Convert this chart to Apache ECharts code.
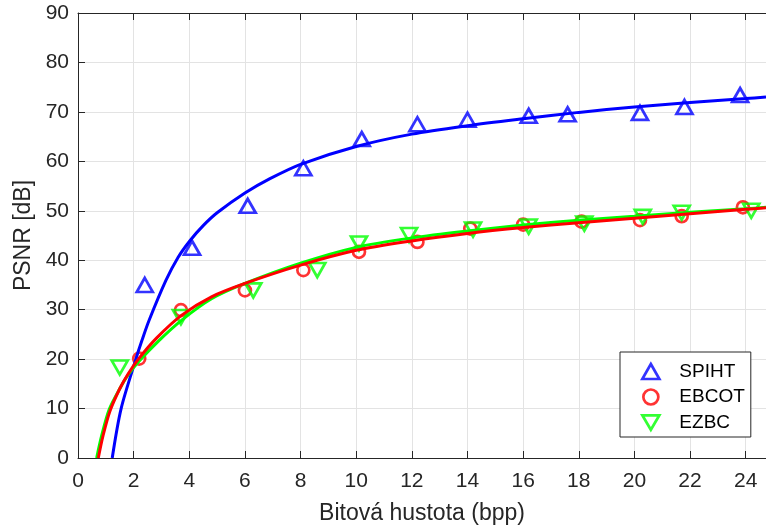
<!DOCTYPE html>
<html>
<head>
<meta charset="utf-8">
<script src="https://cdn.jsdelivr.net/npm/echarts@6/dist/echarts.min.js"></script>
<style>
  html, body { margin: 0; padding: 0; background: #fff; }
  #chart { width: 766px; height: 528px; }
</style>
</head>
<body>
<div id="chart"></div>
<script>
// measured points
const spihtX = [2.4, 4.1, 6.1, 8.1, 10.2, 12.2, 14.0, 16.2, 17.6, 20.2, 21.8, 23.8]
const spihtY = [35.0, 42.5, 51.0, 58.6, 64.5, 67.5, 68.4, 69.2, 69.5, 69.8, 71.0, 73.4]
const ebcotX = [2.2, 3.7, 6.0, 8.1, 10.1, 12.2, 14.1, 16.0, 18.1, 20.2, 21.7, 23.9]
const ebcotY = [20.1, 29.9, 33.9, 38.0, 41.7, 43.7, 46.4, 47.2, 47.8, 48.1, 48.9, 50.7]
const ezbcX = [1.5, 3.7, 6.3, 8.6, 10.1, 11.9, 14.2, 16.2, 18.2, 20.3, 21.7, 24.2]
const ezbcY = [18.3, 28.5, 33.9, 38.0, 43.4, 45.1, 46.2, 46.8, 47.4, 48.8, 49.6, 50.0]

// fitted curves
const spihtFitX = [1.23, 1.55, 2.08, 2.3, 2.56, 3.16, 3.6, 4.03, 4.5, 5.0, 6.0, 6.9, 8.0, 10, 12, 14, 16, 18, 20, 22, 24, 24.73]
const spihtFitY = [0, 10, 20, 23.8, 27.9, 35.9, 40.6, 44.0, 47.0, 49.6, 53.6, 56.5, 59.4, 63.0, 65.5, 67.2, 68.6, 69.9, 71.0, 71.9, 72.7, 73.0]
const ebcotFitX = [0.73, 0.9, 1.15, 1.5, 1.8, 2.17, 2.83, 3.73, 4.8, 6, 8, 10, 12, 14, 16, 18, 20, 22, 24, 24.73]
const ebcotFitY = [0, 4.5, 9.5, 14.0, 17.0, 20.0, 24.3, 28.9, 32.6, 35.3, 39.0, 42.0, 43.9, 45.4, 46.6, 47.6, 48.5, 49.4, 50.3, 50.6]
const ezbcFitX = [0.67, 0.85, 1.12, 1.5, 1.8, 2.2, 2.9, 3.73, 4.8, 6, 8, 10, 12, 14, 16, 18, 20, 22, 24, 24.73]
const ezbcFitY = [0, 4.5, 9.8, 14.0, 16.8, 19.6, 23.7, 27.9, 32.2, 35.3, 39.4, 42.6, 44.5, 45.9, 47.1, 48.1, 48.9, 49.7, 50.4, 50.7]

const xTicks = [0, 2, 4, 6, 8, 10, 12, 14, 16, 18, 20, 22, 24]

const zip = (xs, ys) => xs.map((x, i) => [x, ys[i]])
const font = 'Liberation Sans, Arial, Helvetica, sans-serif'
const axisColor = '#262626'
const triDown = 'path://M0,0 L20,0 L10,17 Z'

const chart = echarts.init(document.getElementById('chart'))

const markerSeries = (name, xs, ys, color, symbol, size) => ({
  name,
  type: 'scatter',
  data: zip(xs, ys),
  symbol,
  symbolSize: size,
  itemStyle: { color: 'rgba(255,255,255,0)', borderColor: color, borderWidth: 2.7 },
  z: 3
})
const fitSeries = (name, xs, ys, color) => ({
  name,
  type: 'line',
  data: zip(xs, ys),
  smooth: 0.3,
  showSymbol: false,
  lineStyle: { color, width: 3 },
  silent: true,
  z: 4
})

chart.setOption({
  animation: false,
  backgroundColor: '#fff',
  grid: { left: 78, right: 0, top: 13, bottom: 70, outerBoundsMode: 'none', containLabel: false },
  legend: {
    data: ['SPIHT', 'EBCOT', 'EZBC'],
    orient: 'vertical',
    left: 620,
    top: 352,
    padding: [10, 6, 5, 21],
    itemWidth: 17,
    itemHeight: 15,
    itemGap: 6.5,
    backgroundColor: '#fff',
    borderColor: axisColor,
    borderWidth: 1,
    borderRadius: 0,
    itemStyle: { borderWidth: 2.7 },
    textStyle: { fontFamily: font, fontSize: 19, color: '#000', padding: [0, 0, 0, 15] }
  },
  xAxis: [{
    type: 'value', min: 0, max: 24.73, interval: 2,
    name: 'Bitová hustota (bpp)', nameLocation: 'middle', nameGap: 44,
    nameTextStyle: { fontFamily: font, fontSize: 23, color: axisColor },
    axisLine: { lineStyle: { color: axisColor } },
    axisTick: { inside: true, length: 7, lineStyle: { color: axisColor } },
    axisLabel: {
      fontFamily: font, fontSize: 21, color: axisColor, margin: 13,
      showMaxLabel: false,
      formatter: v => xTicks.includes(v) ? String(v) : ''
    },
    splitLine: { lineStyle: { color: '#e3e3e3' } }
  }, {
    type: 'value', min: 0, max: 24.73, interval: 2, position: 'top',
    axisLine: { lineStyle: { color: axisColor } },
    axisTick: { inside: true, length: 7, lineStyle: { color: axisColor } },
    axisLabel: { show: false },
    splitLine: { show: false }
  }],
  yAxis: [{
    type: 'value', min: 0, max: 90, interval: 10,
    name: 'PSNR [dB]', nameLocation: 'middle', nameGap: 37,
    nameTextStyle: { fontFamily: font, fontSize: 23, color: axisColor },
    axisLine: { show: true, lineStyle: { color: axisColor } },
    axisTick: { show: true, inside: true, length: 7, lineStyle: { color: axisColor } },
    axisLabel: { fontFamily: font, fontSize: 21, color: axisColor, margin: 9 },
    splitLine: { lineStyle: { color: '#e3e3e3' } }
  }],
  series: [
    markerSeries('SPIHT', spihtX, spihtY, '#0000ff', 'triangle', [16, 14]),
    fitSeries('SPIHT fit', spihtFitX, spihtFitY, '#0000ff'),
    markerSeries('EBCOT', ebcotX, ebcotY, '#ff0000', 'circle', 12),
    markerSeries('EZBC', ezbcX, ezbcY, '#00ff00', triDown, [16, 14]),
    fitSeries('EZBC fit', ezbcFitX, ezbcFitY, '#00ff00'),
    fitSeries('EBCOT fit', ebcotFitX, ebcotFitY, '#ff0000')
  ]
})
</script>
</body>
</html>
